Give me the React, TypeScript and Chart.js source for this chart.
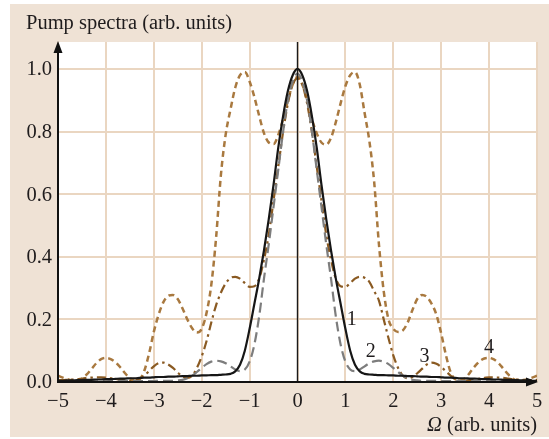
import React, { useEffect, useRef } from "react";
import { Chart, registerables } from "chart.js";

Chart.register(...registerables);

// Ω grid (arb. units)
const omega = [
  -5.0, -4.9, -4.8, -4.7, -4.6, -4.5, -4.4, -4.3, -4.2, -4.1,
  -4.0, -3.9, -3.8, -3.7, -3.6, -3.5, -3.4, -3.3, -3.2, -3.1,
  -3.0, -2.9, -2.8, -2.7, -2.6, -2.5, -2.4, -2.3, -2.2, -2.1,
  -2.0, -1.9, -1.8, -1.7, -1.6, -1.5, -1.4, -1.3, -1.2, -1.1,
  -1.0, -0.9, -0.8, -0.7, -0.6, -0.5, -0.4, -0.3, -0.2, -0.1,
  0.0,
  0.1, 0.2, 0.3, 0.4, 0.5, 0.6, 0.7, 0.8, 0.9, 1.0,
  1.1, 1.2, 1.3, 1.4, 1.5, 1.6, 1.7, 1.8, 1.9, 2.0,
  2.1, 2.2, 2.3, 2.4, 2.5, 2.6, 2.7, 2.8, 2.9, 3.0,
  3.1, 3.2, 3.3, 3.4, 3.5, 3.6, 3.7, 3.8, 3.9, 4.0,
  4.1, 4.2, 4.3, 4.4, 4.5, 4.6, 4.7, 4.8, 4.9, 5.0,
];

// Curve 1 (solid black)
const spectrum1 = [
  0.004, 0.004, 0.005, 0.005, 0.006, 0.006, 0.007, 0.007, 0.008, 0.008,
  0.009, 0.009, 0.010, 0.011, 0.011, 0.012, 0.012, 0.013, 0.014, 0.014,
  0.015, 0.016, 0.016, 0.017, 0.017, 0.018, 0.019, 0.019, 0.020, 0.020,
  0.021, 0.021, 0.022, 0.022, 0.023, 0.024, 0.026, 0.034, 0.055, 0.10,
  0.17, 0.25, 0.33, 0.42, 0.52, 0.63, 0.75, 0.85, 0.93, 0.98,
  1.0,
  0.98, 0.93, 0.85, 0.75, 0.63, 0.52, 0.42, 0.33, 0.25, 0.17,
  0.10, 0.055, 0.034, 0.026, 0.024, 0.023, 0.022, 0.022, 0.021, 0.021,
  0.020, 0.020, 0.019, 0.019, 0.018, 0.017, 0.017, 0.016, 0.016, 0.015,
  0.014, 0.014, 0.013, 0.012, 0.012, 0.011, 0.011, 0.010, 0.009, 0.009,
  0.008, 0.008, 0.007, 0.007, 0.006, 0.006, 0.005, 0.005, 0.004, 0.004,
];

// Curve 2 (grey dashed)
const spectrum2 = [
  0.002, 0.002, 0.002, 0.002, 0.002, 0.002, 0.002, 0.002, 0.002, 0.002,
  0.002, 0.003, 0.003, 0.003, 0.003, 0.003, 0.003, 0.003, 0.003, 0.003,
  0.003, 0.004, 0.004, 0.004, 0.004, 0.005, 0.007, 0.012, 0.020, 0.032,
  0.045, 0.057, 0.065, 0.068, 0.066, 0.060, 0.050, 0.040, 0.035, 0.040,
  0.065, 0.12, 0.21, 0.33, 0.44, 0.56, 0.68, 0.80, 0.90, 0.96,
  0.985,
  0.96, 0.90, 0.80, 0.68, 0.56, 0.44, 0.33, 0.21, 0.12, 0.065,
  0.040, 0.035, 0.040, 0.050, 0.060, 0.066, 0.068, 0.065, 0.057, 0.045,
  0.032, 0.020, 0.012, 0.007, 0.005, 0.004, 0.004, 0.004, 0.004, 0.003,
  0.003, 0.003, 0.003, 0.003, 0.003, 0.003, 0.003, 0.003, 0.003, 0.002,
  0.002, 0.002, 0.002, 0.002, 0.002, 0.002, 0.002, 0.002, 0.002, 0.002,
];

// Curve 3 (brown dash-dot)
const spectrum3 = [
  0.006, 0.006, 0.007, 0.008, 0.009, 0.011, 0.013, 0.014, 0.015, 0.015,
  0.014, 0.012, 0.010, 0.007, 0.005, 0.004, 0.005, 0.010, 0.020, 0.035,
  0.050, 0.060, 0.062, 0.056, 0.045, 0.030, 0.018, 0.013, 0.020, 0.045,
  0.082, 0.13, 0.19, 0.245, 0.285, 0.315, 0.332, 0.336, 0.330, 0.316,
  0.304, 0.306, 0.330, 0.39, 0.47, 0.58, 0.69, 0.80, 0.89, 0.95,
  0.97,
  0.95, 0.89, 0.80, 0.69, 0.58, 0.47, 0.39, 0.330, 0.306, 0.304,
  0.316, 0.330, 0.336, 0.333, 0.320, 0.290, 0.260, 0.200, 0.14, 0.085,
  0.045, 0.020, 0.012, 0.016, 0.028, 0.042, 0.056, 0.062, 0.058, 0.048,
  0.034, 0.020, 0.009, 0.004, 0.004, 0.006, 0.008, 0.011, 0.013, 0.015,
  0.015, 0.014, 0.013, 0.011, 0.009, 0.008, 0.007, 0.006, 0.006, 0.006,
];

// Curve 4 (light brown dotted)
const spectrum4 = [
  0.020, 0.014, 0.009, 0.005, 0.004, 0.010, 0.024, 0.042, 0.060, 0.073,
  0.077, 0.073, 0.063, 0.047, 0.028, 0.012, 0.004, 0.008, 0.035, 0.090,
  0.160, 0.215, 0.255, 0.275, 0.278, 0.265, 0.235, 0.200, 0.172, 0.158,
  0.170, 0.220, 0.310, 0.46, 0.66, 0.79, 0.87, 0.94, 0.98, 0.99,
  0.96, 0.91, 0.85, 0.795, 0.765, 0.760, 0.790, 0.84, 0.90, 0.95,
  0.975,
  0.95, 0.90, 0.84, 0.795, 0.765, 0.758, 0.780, 0.83, 0.89, 0.945,
  0.98, 0.99, 0.95, 0.86, 0.77, 0.64, 0.44, 0.29, 0.20, 0.170,
  0.160, 0.165, 0.190, 0.230, 0.265, 0.278, 0.272, 0.250, 0.215, 0.155,
  0.085, 0.030, 0.008, 0.005, 0.012, 0.030, 0.050, 0.066, 0.075, 0.077,
  0.072, 0.060, 0.042, 0.024, 0.010, 0.004, 0.005, 0.009, 0.014, 0.020,
];

const xTickValues = [-5, -4, -3, -2, -1, 0, 1, 2, 3, 4, 5];
const xTickLabels = ["\u22125", "\u22124", "\u22123", "\u22122", "\u22121", "0", "1", "2", "3", "4", "5"];
const yTickValues = [0, 0.2, 0.4, 0.6, 0.8, 1.0];
const yTickLabels = ["0.0", "0.2", "0.4", "0.6", "0.8", "1.0"];

const curveNames = ["1", "2", "3", "4"];
const curveNameX = [1.13, 1.53, 2.65, 4.0];
const curveNameY = [0.2, 0.098, 0.082, 0.11];

const yTitle = "Pump spectra (arb. units)";
const xTitleSymbol = "\u03A9";
const xTitleRest = " (arb. units)";

const BEIGE = "#efe2d5";
const GRID = "#ead6c1";
const TEXT = "#1f1c1d";
const FONT = '"Liberation Serif", "Times New Roman", serif';

function pts(ys: number[]) {
  return omega.map((x, i) => ({ x, y: ys[i] }));
}

const decorPlugin = {
  id: "decor",
  beforeDraw(chart: any) {
    const { ctx, chartArea, width, height } = chart;
    ctx.save();
    ctx.fillStyle = "#ffffff";
    ctx.fillRect(0, 0, width, height);
    ctx.fillStyle = BEIGE;
    ctx.fillRect(10, 4, width - 10, 433);
    ctx.fillStyle = "#ffffff";
    ctx.fillRect(chartArea.left, chartArea.top, chartArea.right - chartArea.left + 1, chartArea.bottom - chartArea.top);
    ctx.restore();
  },
  afterDatasetsDraw(chart: any) {
    const { ctx, chartArea } = chart;
    const xs = chart.scales.x;
    const ys = chart.scales.y;
    const { left, right, top, bottom } = chartArea;
    ctx.save();
    // zero line
    const x0 = xs.getPixelForValue(0);
    ctx.strokeStyle = "#1a1a1a";
    ctx.lineWidth = 1.4;
    ctx.beginPath();
    ctx.moveTo(x0, top);
    ctx.lineTo(x0, bottom);
    ctx.stroke();
    // axes
    ctx.lineWidth = 2;
    ctx.strokeStyle = "#111";
    ctx.beginPath();
    ctx.moveTo(left, bottom + 1);
    ctx.lineTo(left, top + 8);
    ctx.moveTo(left, bottom);
    ctx.lineTo(right - 6, bottom);
    ctx.stroke();
    ctx.fillStyle = "#111";
    ctx.beginPath();
    ctx.moveTo(left, top - 1);
    ctx.lineTo(left - 4.5, top + 11);
    ctx.lineTo(left + 4.5, top + 11);
    ctx.closePath();
    ctx.fill();
    ctx.beginPath();
    ctx.moveTo(right + 1, bottom);
    ctx.lineTo(right - 11, bottom - 4.5);
    ctx.lineTo(right - 11, bottom + 4.5);
    ctx.closePath();
    ctx.fill();

    // text
    ctx.fillStyle = TEXT;
    ctx.font = `20.5px ${FONT}`;
    ctx.textAlign = "left";
    ctx.textBaseline = "alphabetic";
    ctx.fillText(yTitle, 26, 29);

    ctx.textAlign = "right";
    ctx.textBaseline = "middle";
    yTickValues.forEach((v, i) => {
      ctx.fillText(yTickLabels[i], 52, ys.getPixelForValue(v) + 1);
    });

    ctx.textAlign = "center";
    xTickValues.forEach((v, i) => {
      ctx.fillText(xTickLabels[i], xs.getPixelForValue(v), 402);
    });

    ctx.textAlign = "right";
    ctx.textBaseline = "alphabetic";
    const restW = ctx.measureText(xTitleRest).width;
    ctx.fillText(xTitleRest, right, 431);
    ctx.font = `italic 20.5px ${FONT}`;
    ctx.fillText(xTitleSymbol, right - restW, 431);

    ctx.font = `20px ${FONT}`;
    ctx.textAlign = "center";
    ctx.textBaseline = "middle";
    curveNames.forEach((n, i) => {
      ctx.fillText(n, xs.getPixelForValue(curveNameX[i]), ys.getPixelForValue(curveNameY[i]));
    });
    ctx.restore();
  },
};

export default function App() {
  const ref = useRef<HTMLCanvasElement | null>(null);
  useEffect(() => {
    if (!ref.current) return;
    const chart = new Chart(ref.current, {
      type: "line",
      data: {
        datasets: [
          {
            data: pts(spectrum1),
            borderColor: "#161616",
            borderWidth: 2.2,
            pointRadius: 0,
            cubicInterpolationMode: "monotone",
            fill: false,
          },
          {
            data: pts(spectrum2),
            borderColor: "#7d7d7d",
            borderWidth: 2.2,
            borderDash: [10, 5],
            pointRadius: 0,
            cubicInterpolationMode: "monotone",
            fill: false,
          },
          {
            data: pts(spectrum3),
            borderColor: "#8a5a22",
            borderWidth: 2.2,
            borderDash: [9, 4, 2.5, 4],
            pointRadius: 0,
            cubicInterpolationMode: "monotone",
            fill: false,
          },
          {
            data: pts(spectrum4),
            borderColor: "#a9793f",
            borderWidth: 2.5,
            borderDash: [6, 4],
            pointRadius: 0,
            cubicInterpolationMode: "monotone",
            fill: false,
          },
        ],
      },
      options: {
        responsive: false,
        animation: false,
        devicePixelRatio: 1,
        layout: { padding: { left: 58, top: 42, right: 12, bottom: 57 } },
        plugins: { legend: { display: false }, tooltip: { enabled: false } },
        scales: {
          x: {
            type: "linear",
            min: -5,
            max: 5,
            ticks: { display: false, stepSize: 1 },
            grid: { color: GRID, lineWidth: 2, drawTicks: false },
            border: { display: false },
          },
          y: {
            type: "linear",
            min: 0,
            max: 1.086,
            ticks: { display: false, stepSize: 0.2, includeBounds: false },
            grid: { color: GRID, lineWidth: 2, drawTicks: false },
            border: { display: false },
          },
        },
      },
      plugins: [decorPlugin],
    } as any);
    return () => chart.destroy();
  }, []);
  return (
    <div style={{ position: "absolute", left: 0, top: 0, width: 549, height: 439 }}>
      <canvas ref={ref} width={549} height={439} style={{ width: 549, height: 439, display: "block" }} />
    </div>
  );
}
